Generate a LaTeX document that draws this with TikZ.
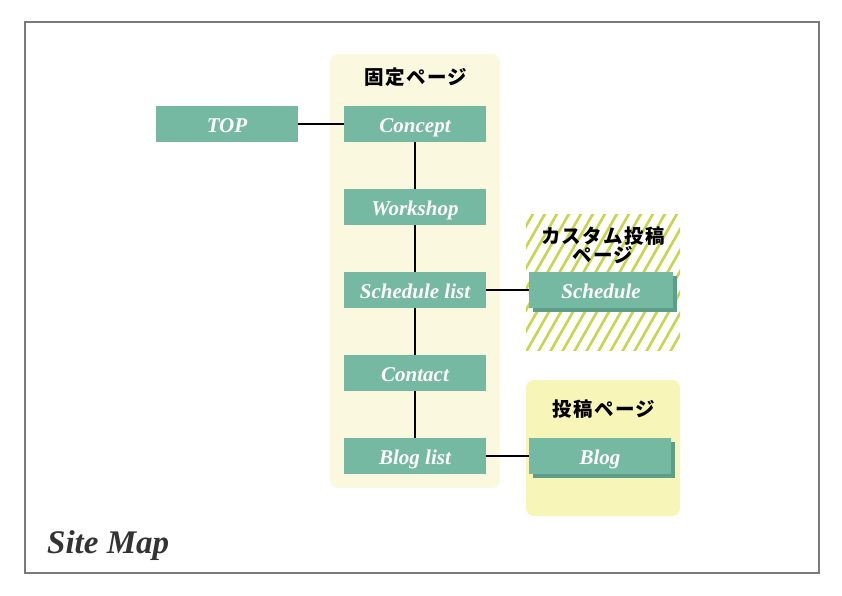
\documentclass[tikz,border=0pt]{standalone}
\usepackage{fontspec}
\setmainfont{Liberation Serif}
\newfontfamily\jp{Noto Sans CJK JP}[LetterSpace=7]
\usetikzlibrary{shadows}
\definecolor{teal1}{HTML}{76B9A2}
\definecolor{teal2}{HTML}{5E9E88}
\definecolor{fixbg}{HTML}{FAF9E0}
\definecolor{postbg}{HTML}{F7F5B7}
\definecolor{stripe}{HTML}{C9D54C}
\definecolor{framec}{HTML}{7A7A7A}
\tikzset{
  pagebox/.style={fill=teal1, minimum width=142pt, minimum height=36pt, inner sep=0pt,
    text height=17pt, text depth=0pt,
    text=white, font=\fontsize{21}{22}\selectfont\bfseries\itshape},
  shadowbox/.style={pagebox, minimum width=144pt, drop shadow={shadow xshift=4pt, shadow yshift=-4pt, fill=teal2, opacity=1}},
  groupbg/.style={rounded corners=8pt},
  grouptitle/.style={font=\jp\bfseries\fontsize{19.5}{20}\selectfont, align=center, text=black},
  link/.style={draw=black, line width=1.6pt}
}
\begin{document}
\begin{tikzpicture}[x=1pt,y=-1pt]
\useasboundingbox (0,0) rectangle (842,595);
\fill[white] (0,0) rectangle (842,595);
\draw[framec, line width=1.2pt] (25,22) rectangle (819,573);
% groups
\fill[fixbg, groupbg] (330,54) rectangle (500,488);
\fill[postbg, groupbg] (526,380) rectangle (680,516);
\begin{scope}
  \clip (526,214) rectangle (680,350);
  \foreach \x in {430,442,...,700} {
    \draw[stripe, line width=2.6pt] (\x,352) -- (\x+80,212);
  }
\end{scope}
\node[grouptitle] (tfix) at (416,77) {固定ページ};
\node[grouptitle, font=\jp\bfseries\fontsize{19.5}{19}\selectfont] (tcustom) at (603,245) {カスタム投稿\\[0pt]ページ};
\node[grouptitle] (tpost) at (604,409) {投稿ページ};
% nodes
\node[pagebox] (top) at (227,124) {TOP};
\node[pagebox] (concept) at (415,124) {Concept};
\node[pagebox] (workshop) at (415,207) {Workshop};
\node[pagebox] (schedlist) at (415,290) {Schedule list};
\node[pagebox] (contact) at (415,373) {Contact};
\node[pagebox] (bloglist) at (415,456) {Blog list};
\node[shadowbox] (schedule) at (601,290) {Schedule};
\node[shadowbox, minimum width=142pt] (blog) at (600,456) {Blog};
% links
\draw[link] (top.east) -- (concept.west);
\draw[link] (concept.south) -- (workshop.north);
\draw[link] (workshop.south) -- (schedlist.north);
\draw[link] (schedlist.south) -- (contact.north);
\draw[link] (contact.south) -- (bloglist.north);
\draw[link] (schedlist.east) -- (schedule.west);
\draw[link] (bloglist.east) -- (blog.west);
% title
\node[anchor=west, text=black!80, font=\fontsize{33}{34}\selectfont\bfseries\itshape, inner sep=0pt] (sitemap) at (47,546) {Site Map};
\end{tikzpicture}
\end{document}
